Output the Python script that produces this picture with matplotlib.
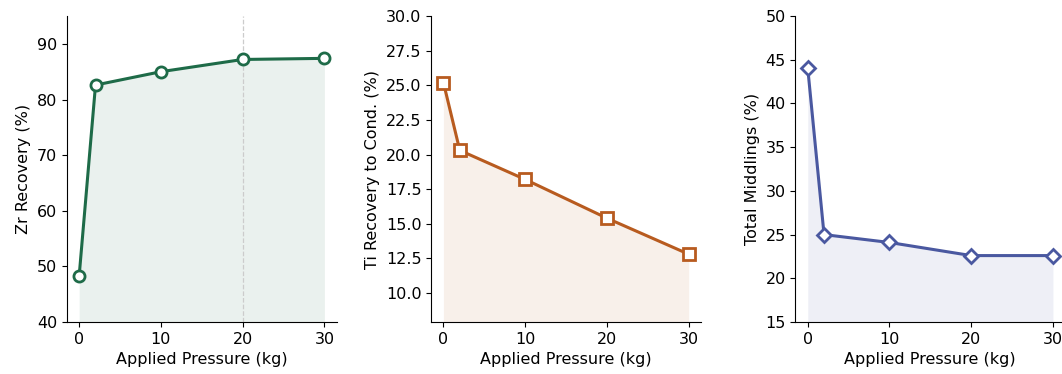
import matplotlib.pyplot as plt

# applied pressure (kg)
pressure = [0, 2, 10, 20, 30]

zr_recovery = [48.3, 82.6, 85.0, 87.2, 87.4]
ti_recovery = [25.2, 20.3, 18.2, 15.4, 12.8]
middlings = [44.1, 25.0, 24.1, 22.6, 22.6]

fig = plt.figure(figsize=(10.62, 3.74), dpi=100)

# axes placed by hand (third panel runs off the right edge like the original)
ax1 = fig.add_axes([0.063, 0.139, 0.254, 0.818])
ax2 = fig.add_axes([0.406, 0.139, 0.254, 0.818])
ax3 = fig.add_axes([0.749, 0.139, 0.254, 0.818])

panels = [
    (ax1, zr_recovery, '#1e6b48', 'o', 'Zr Recovery (%)', (40, 95)),
    (ax2, ti_recovery, '#b85b1f', 's', 'Ti Recovery to Cond. (%)', (7.9, 30)),
    (ax3, middlings, '#4a58a0', 'D', 'Total Middlings (%)', (15, 50)),
]

for ax, values, color, marker, label, ylim in panels:
    ax.fill_between(pressure, values, ylim[0], color=color, alpha=0.09, linewidth=0)
    ms = 7.5 if marker == 'D' else 8
    ax.plot(pressure, values, color=color, linewidth=2.2, marker=marker,
            markersize=ms, markerfacecolor='white', markeredgecolor=color,
            markeredgewidth=2, zorder=3)
    ax.set_ylim(*ylim)
    ax.set_xlim(-1.5, 31.5)
    ax.set_xticks([0, 10, 20, 30])
    ax.set_xlabel('Applied Pressure (kg)', fontsize=11.5)
    ax.set_ylabel(label, fontsize=11.5)
    ax.tick_params(labelsize=11.5)
    ax.spines['top'].set_visible(False)
    ax.spines['right'].set_visible(False)

ax1.set_yticks([40, 50, 60, 70, 80, 90])
ax1.axvline(20, color='#cccccc', linestyle='--', linewidth=0.9, zorder=1)
ax2.set_yticks([10.0, 12.5, 15.0, 17.5, 20.0, 22.5, 25.0, 27.5, 30.0])
ax2.yaxis.set_major_formatter(plt.FormatStrFormatter('%.1f'))
ax3.set_yticks([15, 20, 25, 30, 35, 40, 45, 50])

plt.savefig('out.png', dpi=100)
